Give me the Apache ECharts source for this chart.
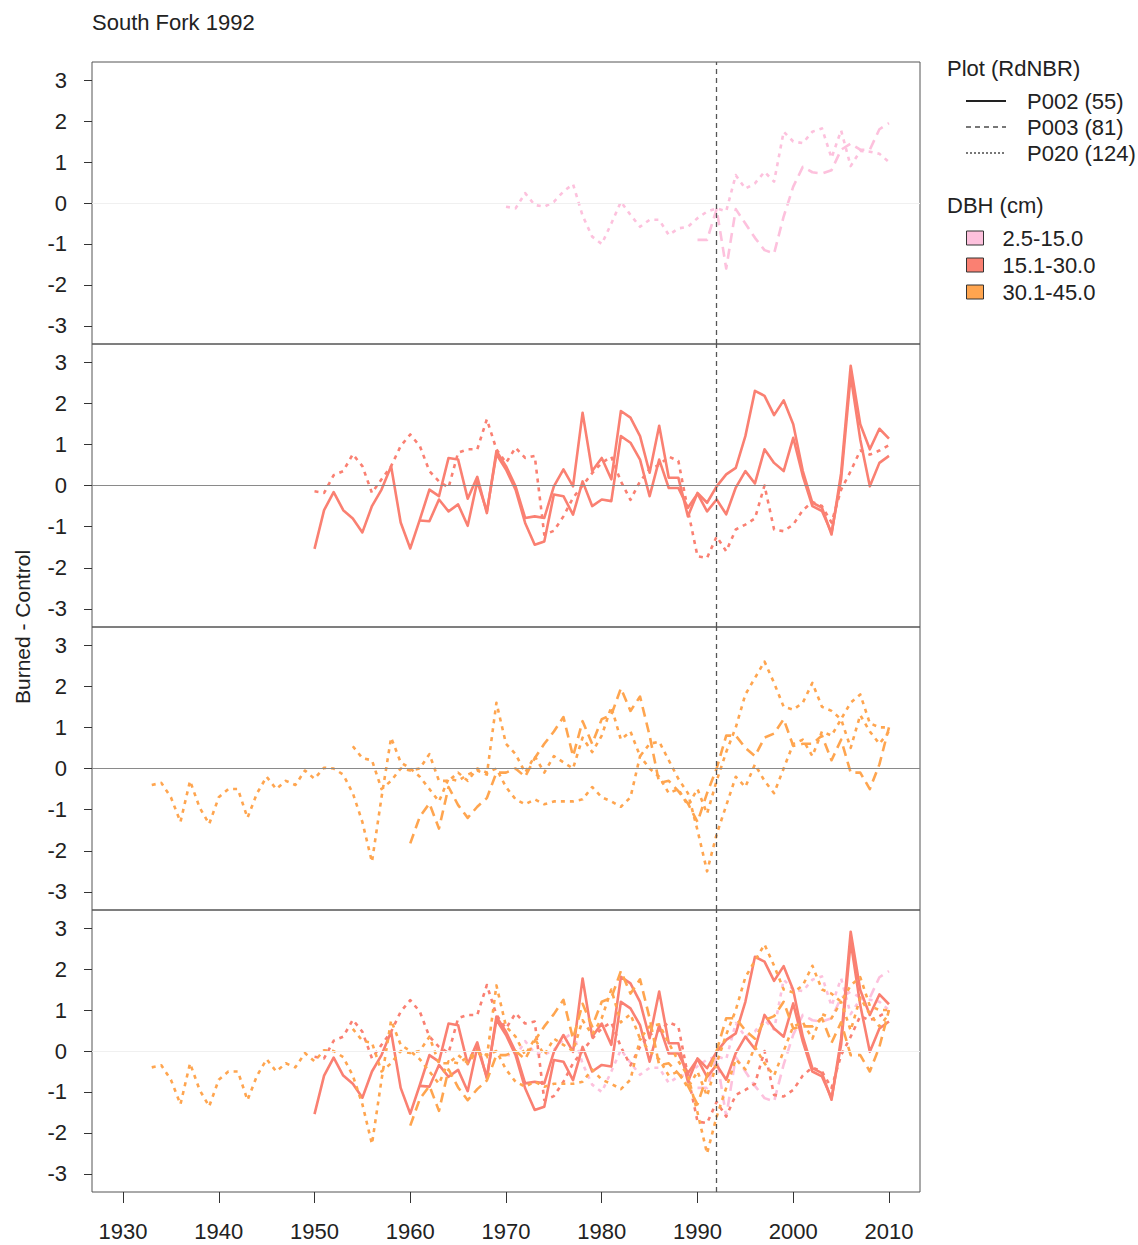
<!DOCTYPE html>
<html><head><meta charset="utf-8">
<script src="https://cdn.jsdelivr.net/npm/echarts@6/dist/echarts.min.js"></script>
<style>html,body{margin:0;padding:0;background:#fff}#c{width:1138px;height:1245px}</style>
</head><body><div id="c"></div>
<script>
// ---- tick labels ----
const xTicks = [1930, 1940, 1950, 1960, 1970, 1980, 1990, 2000, 2010];
const yTicks = [-3, -2, -1, 0, 1, 2, 3];
const fireYear = 1992;

// ---- legend labels ----
const plotNames = ['P002 (55)', 'P003 (81)', 'P020 (124)'];
const dbhNames = ['2.5-15.0', '15.1-30.0', '30.1-45.0'];
const dbhColors = ['#FDC1DD', '#FA8072', '#FFA54F'];

// ---- series values (Burned - Control), one value per year from start year ----
// DBH 2.5-15.0
const pinkP020Start = 1970;
const pinkP020 = [-0.09, -0.13, 0.24, -0.05, -0.09, 0.03, 0.28, 0.46, -0.31, -0.82,
  -1.0, -0.5, 0.03, -0.29, -0.58, -0.41, -0.41, -0.78, -0.62, -0.58,
  -0.37, -0.21, -0.13, -0.2, 0.68, 0.35, 0.48, 0.76, 0.52, 1.74,
  1.5, 1.46, 1.74, 1.82, 1.1, 1.77, 0.9, 1.27, 1.25, 1.2, 1.0];
const pinkP003Start = 1990;
const pinkP003 = [-0.9, -0.9, -0.15, -1.6, -0.15, -0.5, -0.85, -1.15, -1.23, -0.33,
  0.4, 0.88, 0.75, 0.72, 0.8, 1.3, 1.45, 1.3, 1.3, 1.8, 1.95];

// DBH 15.1-30.0
const redP002aStart = 1950;
const redP002a = [-1.54, -0.6, -0.16, -0.6, -0.8, -1.14, -0.5, -0.1, 0.47, -0.9,
  -1.53, -0.83, -0.1, -0.26, 0.67, 0.63, -0.32, 0.21, -0.67, 0.84,
  0.47, -0.02, -0.79, -0.75, -0.79, -0.02, 0.39, -0.02, 1.77, 0.35,
  0.67, 0.15, 1.81, 1.65, 1.2, 0.31, 1.45, 0.19, 0.19, -0.75,
  -0.18, -0.42, -0.02, 0.27, 0.43, 1.2, 2.3, 2.18, 1.71, 2.07,
  1.49, 0.35, -0.42, -0.54, -1.19, 0.3, 2.91, 1.49, 0.88, 1.38, 1.14];
const redP002bStart = 1961;
const redP002b = [-0.85, -0.87, -0.34, -0.63, -0.46, -0.98, 0.1, -0.63, 0.76,
  0.39, -0.1, -0.91, -1.44, -1.36, -0.22, -0.26, -0.71, 0.1, -0.5,
  -0.34, -0.38, 1.2, 1.04, 0.63, -0.26, 0.63, -0.06, -0.06, -0.54,
  -0.2, -0.63, -0.34, -0.7, -0.05, 0.35, 0.05, 0.88, 0.55, 0.35,
  1.16, 0.23, -0.5, -0.62, -1.15, 0.15, 2.67, 1.12, -0.02, 0.55, 0.72];
const redP020Start = 1950;
const redP020 = [-0.14, -0.18, 0.25, 0.35, 0.76, 0.47, -0.18, 0.15, 0.47, 0.96,
  1.24, 0.96, 0.35, 0.1, -0.05, 0.8, 0.88, 0.88, 1.61, 0.88,
  0.55, 0.92, 0.67, 0.72, -1.2, -1.1, -0.75, -0.3, 0.0, 0.3,
  0.55, 0.7, 0.1, -0.35, 0.1, 0.4, 0.5, 0.7, 0.6, -0.6,
  -1.72, -1.76, -1.24, -1.6, -1.07, -0.95, -0.8, 0.0, -1.07, -1.11,
  -0.95, -0.6, -0.4, -0.5, -0.9, -0.1, 0.35, 0.85, 0.75, 0.85, 0.98];

// DBH 30.1-45.0
const orP020aStart = 1933;
const orP020a = [-0.4, -0.35, -0.7, -1.3, -0.3, -0.95, -1.35,
  -0.7, -0.5, -0.5, -1.2, -0.6, -0.2, -0.5, -0.3, -0.4, -0.05,
  -0.25, 0.02, 0.0, -0.15, -0.6, -1.3, -2.27, -0.7, 0.75, 0.15,
  0.0, -0.2, -0.5, -0.8, -0.25, -0.3, -0.15, -0.05, -0.15, 1.6,
  0.6, 0.35, -0.1, 0.3, -0.1, 0.3, 0.15, 0.0, 0.75, 0.4,
  0.8, 1.5, 0.7, 0.9, 0.3, 0.6, 0.65, 0.2, -0.25, -0.6,
  -1.5, -2.5, -1.6, -0.9, -0.2, -0.45, 0.1, -0.3, -0.6, 0.0,
  0.6, 0.7, 0.3, 0.9, 0.8, 1.2, 0.5, 1.3, 0.9, 0.6, 0.9];
const orP020bStart = 1954;
const orP020b = [0.54, 0.25, 0.2, -0.5, -0.3, 0.0,
  -0.05, 0.0, 0.35, -0.3, -0.3, -0.1, -0.3, 0.0, -0.1, 0.0,
  -0.45, -0.75, -0.87, -0.75, -0.87, -0.8, -0.8, -0.8, -0.75, -0.45,
  -0.7, -0.8, -0.93, -0.7, 0.3, 0.0, -0.2, -0.6, -0.5, -0.9,
  -0.5, -1.1, -0.3, 0.4, 1.0, 1.8, 2.2, 2.6, 2.08, 1.5,
  1.43, 1.6, 2.08, 1.5, 1.4, 1.2, 1.6, 1.8, 1.1, 1.0, 1.0];
const orP003Start = 1960;
const orP003 = [-1.82, -1.17, -0.85, -1.46, -0.45, -0.89, -1.2, -0.93, -0.72, -0.1,
  -0.1, 0.0, -0.2, 0.25, 0.6, 0.9, 1.25, 0.3, 1.15, 0.6,
  1.2, 1.3, 1.95, 1.4, 1.75, 0.8, -0.35, -0.3, -0.55, -0.85,
  -1.3, -0.6, 0.0, 0.8, 0.8, 0.5, 0.3, 0.75, 0.85, 1.2,
  0.55, 0.6, 0.6, 0.8, 0.2, 0.7, -0.1, -0.1, -0.5, 0.1, 1.0];

// ---- build ----
const toPairs = (start, vals) => vals.map((v, i) => [start + i, v]);
const FONT = 'Liberation Sans';
const DOT = [4, 5], DASH = [10, 6];
const LW = 2.6;

const defs = [
  { key: 'pinkP020', start: pinkP020Start, vals: pinkP020, color: dbhColors[0], type: DOT, panel: 0 },
  { key: 'pinkP003', start: pinkP003Start, vals: pinkP003, color: dbhColors[0], type: DASH, panel: 0 },
  { key: 'redP002a', start: redP002aStart, vals: redP002a, color: dbhColors[1], type: 'solid', panel: 1 },
  { key: 'redP002b', start: redP002bStart, vals: redP002b, color: dbhColors[1], type: 'solid', panel: 1 },
  { key: 'redP020', start: redP020Start, vals: redP020, color: dbhColors[1], type: DOT, panel: 1 },
  { key: 'orP020a', start: orP020aStart, vals: orP020a, color: dbhColors[2], type: DOT, panel: 2 },
  { key: 'orP020b', start: orP020bStart, vals: orP020b, color: dbhColors[2], type: DOT, panel: 2 },
  { key: 'orP003', start: orP003Start, vals: orP003, color: dbhColors[2], type: DASH, panel: 2 }
];

const tops = [62, 344, 627, 910];
const heights = [282, 283, 283, 282];
const zeroColors = ['#f0f0f0', '#8a8a8a', '#8a8a8a', '#f0f0f0'];

const grids = tops.map((t, i) => ({
  left: 92, width: 828, top: t, height: heights[i],
  show: true, borderColor: '#555', borderWidth: 1, backgroundColor: 'transparent'
}));

const xAxes = tops.map((t, i) => ({
  gridIndex: i, type: 'value', min: 1926.76, max: 2013.24, position: 'bottom',
  show: i === 3,
  axisLine: { show: false, onZero: false }, splitLine: { show: false },
  axisTick: { show: true, length: 11, customValues: xTicks, lineStyle: { color: '#333' } },
  axisLabel: { customValues: xTicks, formatter: v => String(v), fontSize: 22, fontFamily: FONT, color: '#222', margin: 28 }
}));

const yAxes = tops.map((t, i) => ({
  gridIndex: i, type: 'value', min: -3.44, max: 3.44, position: 'left',
  axisLine: { show: false, onZero: false }, splitLine: { show: false },
  axisTick: { show: true, length: 8, customValues: yTicks, lineStyle: { color: '#333' } },
  axisLabel: { customValues: yTicks, formatter: v => String(v), fontSize: 22, fontFamily: FONT, color: '#222', margin: 25 }
}));

const series = [];
// reference lines per panel
tops.forEach((t, i) => {
  series.push({
    type: 'line', name: 'ref' + i, xAxisIndex: i, yAxisIndex: i, data: [], silent: true,
    markLine: {
      silent: true, symbol: 'none', animation: false, label: { show: false },
      data: [
        { yAxis: 0, lineStyle: { color: zeroColors[i], width: 1, type: 'solid' } },
        { xAxis: fireYear, lineStyle: { color: '#555', width: 1.3, type: [5, 4] } }
      ]
    }
  });
});
// data lines in own panel and in combined panel
[false, true].forEach(combined => {
  defs.forEach(d => {
    const p = combined ? 3 : d.panel;
    series.push({
      type: 'line', name: d.key + (combined ? '_all' : ''), xAxisIndex: p, yAxisIndex: p,
      data: toPairs(d.start, d.vals), symbol: 'none', silent: true,
      color: d.color,
      lineStyle: { color: d.color, width: LW, type: d.type, cap: 'butt', join: 'round' }
    });
  });
});
// legend carriers
const plotStyles = [
  { type: 'solid', color: '#222' },
  { type: [5, 4], color: '#777' },
  { type: [2, 2], color: '#777' }
];
plotNames.forEach((n, i) => series.push({
  type: 'line', name: n, xAxisIndex: 0, yAxisIndex: 0, data: [], symbol: 'none', showSymbol: false,
  color: plotStyles[i].color, itemStyle: { color: plotStyles[i].color, opacity: 0 },
  lineStyle: { color: plotStyles[i].color, width: 1, type: plotStyles[i].type }
}));
dbhNames.forEach((n, i) => series.push({
  type: 'line', name: n, xAxisIndex: 0, yAxisIndex: 0, data: [], symbol: 'rect',
  color: dbhColors[i], itemStyle: { color: dbhColors[i], borderColor: '#333', borderWidth: 1 }
}));

const txt = { fontSize: 22, fontFamily: FONT, color: '#222', fontWeight: 'normal' };
const option = {
  animation: false,
  backgroundColor: '#fff',
  title: [
    { text: 'South Fork 1992', left: 92, top: 11, padding: 0, textStyle: txt },
    { text: 'Plot (RdNBR)', left: 947, top: 57, padding: 0, textStyle: txt },
    { text: 'DBH (cm)', left: 947, top: 194, padding: 0, textStyle: txt }
  ],
  legend: [
    {
      orient: 'vertical', left: 965, top: 90, padding: 0, itemWidth: 40, itemHeight: 14, itemGap: 4,
      selectedMode: false, data: plotNames,
      itemStyle: { opacity: 0 },
      textStyle: Object.assign({}, txt, { lineHeight: 21, padding: [0, 0, 0, 16] })
    },
    {
      orient: 'vertical', left: 966, top: 227, padding: 0, itemWidth: 17, itemHeight: 14, itemGap: 5,
      icon: 'rect', selectedMode: false, data: dbhNames,
      itemStyle: { borderColor: '#333', borderWidth: 1 },
      textStyle: Object.assign({}, txt, { lineHeight: 21, padding: [0, 0, 0, 14] })
    }
  ],
  graphic: [{
    type: 'text', x: 22, y: 627, rotation: Math.PI / 2, silent: true,
    style: { text: 'Burned - Control', font: '21px "Liberation Sans"', fill: '#222', align: 'center', verticalAlign: 'middle', textAlign: 'center', textVerticalAlign: 'middle' }
  }],
  grid: grids, xAxis: xAxes, yAxis: yAxes, series: series
};
const chart = echarts.init(document.getElementById('c'), null, { renderer: 'svg' });
chart.setOption(option);
</script></body></html>
